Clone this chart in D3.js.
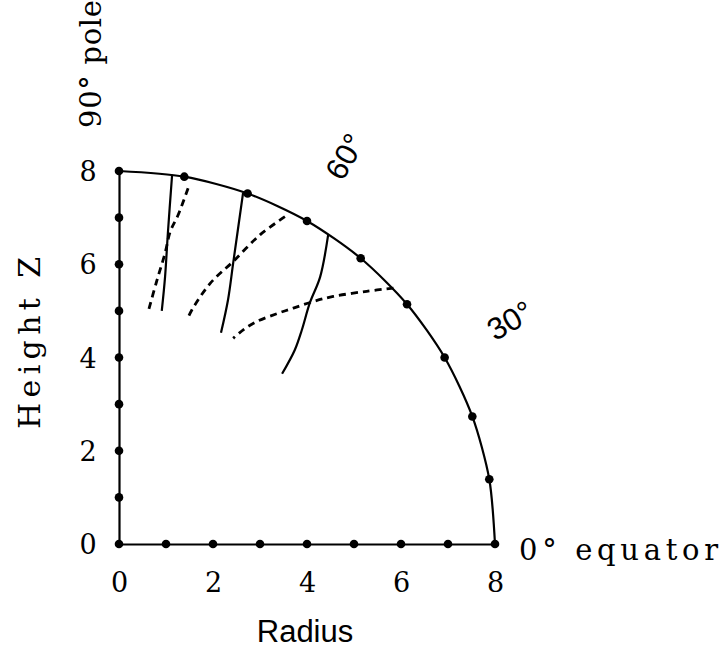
<!DOCTYPE html>
<html>
<head>
<meta charset="utf-8">
<script src="https://cdn.jsdelivr.net/npm/d3@7/dist/d3.min.js"></script>
<style>
  html, body { margin: 0; padding: 0; background: #ffffff; }
  svg { display: block; }
</style>
</head>
<body>
<svg id="chart" width="723" height="649"></svg>
<script>
// Quarter section of a sphere: radius along the equator, height Z toward the pole.
const tickValues = [0, 2, 4, 6, 8];
const unitMarks = [0, 1, 2, 3, 4, 5, 6, 7, 8];
const rimAngles = [0, 10, 20, 30, 40, 50, 60, 70, 80, 90];
const rimRadius = 8;

// Solid contours, [radius, height] from the rim inward
const solidCurves = [
  [[1.13, 7.92], [1.04, 6.67], [0.98, 5.73], [0.91, 5.00]],
  [[2.64, 7.53], [2.43, 6.03], [2.32, 5.24], [2.17, 4.53]],
  [[4.45, 6.63], [4.28, 5.73], [4.06, 5.17], [3.89, 4.59], [3.74, 4.16], [3.47, 3.65]]
];

// Dashed contours, [radius, height]
const dashedCurves = [
  [[1.47, 7.63], [1.26, 7.06], [1.09, 6.70], [0.98, 6.24], [0.80, 5.63], [0.62, 4.98]],
  [[3.53, 7.02], [3.00, 6.63], [2.43, 6.06], [1.94, 5.59], [1.55, 5.02], [1.45, 4.81]],
  [[5.84, 5.49], [5.27, 5.42], [4.56, 5.31], [4.13, 5.20], [3.71, 5.06], [3.36, 4.94], [2.93, 4.77], [2.65, 4.60], [2.43, 4.41]]
];

const latitudeLabels = [
  { angle: 60, text: "60°" },
  { angle: 30, text: "30°" }
];
const labelRadius = 9.6;

const svg = d3.select("#chart");
const serif = "'DejaVu Serif', 'Liberation Serif', serif";
const sans = "'Liberation Sans', Arial, sans-serif";

const x = d3.scaleLinear().domain([0, 8]).range([119, 495]);
const y = d3.scaleLinear().domain([0, 8]).range([544, 171]);

const polar = (r, deg) => {
  const a = deg * Math.PI / 180;
  return [r * Math.cos(a), r * Math.sin(a)];
};

// Axes: the domain lines form the two straight edges of the section
const xAxis = svg.append("g")
  .attr("transform", `translate(0,${y(0)})`)
  .call(d3.axisBottom(x).tickValues(tickValues).tickSize(0).tickSizeOuter(0).tickPadding(0));
xAxis.select(".domain").attr("stroke", "#000").attr("stroke-width", 2.2);
xAxis.selectAll(".tick text")
  .attr("dy", null)
  .attr("y", 48)
  .attr("font-family", serif)
  .attr("font-size", 27)
  .attr("fill", "#000");

const yAxis = svg.append("g")
  .attr("transform", `translate(${x(0)},0)`)
  .call(d3.axisLeft(y).tickValues(tickValues).tickSize(0).tickSizeOuter(0).tickPadding(0));
yAxis.select(".domain").attr("stroke", "#000").attr("stroke-width", 2.2);
yAxis.selectAll(".tick text")
  .attr("text-anchor", "middle")
  .attr("x", -31)
  .attr("dy", "0.36em")
  .attr("font-family", serif)
  .attr("font-size", 27)
  .attr("fill", "#000");

// Outer rim through the 10-degree markers
const rimPoints = rimAngles.map(a => polar(rimRadius, a));
const line = d3.line().x(d => x(d[0])).y(d => y(d[1]));
svg.append("path")
  .attr("d", line.curve(d3.curveCardinal.tension(0.2))(rimPoints))
  .attr("fill", "none")
  .attr("stroke", "#000")
  .attr("stroke-width", 2.2);

// Contours
const smooth = d3.line().x(d => x(d[0])).y(d => y(d[1])).curve(d3.curveCatmullRom.alpha(0.5));
svg.append("g").selectAll("path")
  .data(solidCurves)
  .join("path")
  .attr("d", smooth)
  .attr("fill", "none")
  .attr("stroke", "#000")
  .attr("stroke-width", 2.2);

svg.append("g").selectAll("path")
  .data(dashedCurves)
  .join("path")
  .attr("d", smooth)
  .attr("fill", "none")
  .attr("stroke", "#000")
  .attr("stroke-width", 2.8)
  .attr("stroke-dasharray", "7,5");

// Markers along the axes and the rim
const markers = [
  ...unitMarks.map(v => [v, 0]),
  ...unitMarks.filter(v => v > 0).map(v => [0, v]),
  ...rimPoints.slice(1, -1)
];
svg.append("g").selectAll("circle")
  .data(markers)
  .join("circle")
  .attr("cx", d => x(d[0]))
  .attr("cy", d => y(d[1]))
  .attr("r", 4.3)
  .attr("fill", "#000");

// Latitude labels set radially beyond the rim
svg.append("g").selectAll("text")
  .data(latitudeLabels)
  .join("text")
  .attr("transform", d => {
    const p = polar(labelRadius, d.angle);
    return `translate(${x(p[0])},${y(p[1])}) rotate(${-d.angle})`;
  })
  .attr("text-anchor", "middle")
  .attr("dy", "0.36em")
  .attr("font-family", sans)
  .attr("font-size", 31)
  .attr("fill", "#000")
  .text(d => d.text);

svg.append("text")
  .attr("x", 519)
  .attr("y", 560)
  .attr("font-family", serif)
  .attr("font-size", 29)
  .attr("textLength", 199)
  .attr("lengthAdjust", "spacing")
  .attr("fill", "#000")
  .text("0° equator");

svg.append("text")
  .attr("transform", "translate(101,128) rotate(-90)")
  .attr("font-family", serif)
  .attr("font-size", 29)
  .attr("textLength", 128)
  .attr("lengthAdjust", "spacing")
  .attr("fill", "#000")
  .text("90° pole");

// Axis titles
svg.append("text")
  .attr("x", 305)
  .attr("y", 642)
  .attr("text-anchor", "middle")
  .attr("font-family", sans)
  .attr("font-size", 31)
  .attr("fill", "#000")
  .text("Radius");

svg.append("text")
  .attr("transform", "translate(40,343) rotate(-90)")
  .attr("text-anchor", "middle")
  .attr("font-family", serif)
  .attr("font-size", 30)
  .attr("textLength", 172)
  .attr("lengthAdjust", "spacing")
  .attr("fill", "#000")
  .text("Height Z");
</script>
</body>
</html>
